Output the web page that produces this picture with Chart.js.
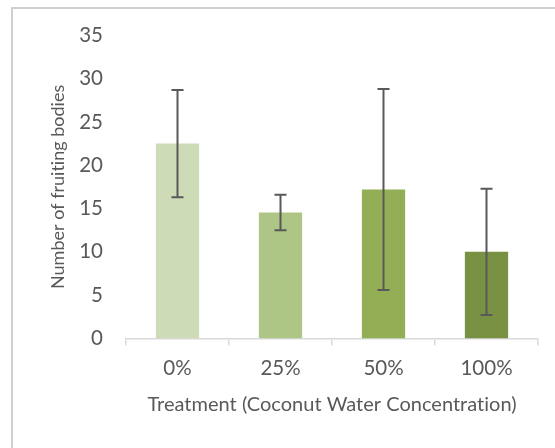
<!DOCTYPE html>
<html>
<head>
<meta charset="utf-8">
<script src="https://cdn.jsdelivr.net/npm/chart.js@4"></script>
<style>
  html, body { margin:0; padding:0; width:555px; height:448px; overflow:hidden; background:#fff; }
  #frame { position:absolute; left:11px; top:7px; width:600px; height:500px; border:2px solid #d0d0d0; box-sizing:border-box; }
  #c { position:absolute; left:0; top:0; font-variant-ligatures: none; }
</style>
</head>
<body>
<div id="frame"></div>
<canvas id="c" width="555" height="448"></canvas>
<script>
const categories = ['0%', '25%', '50%', '100%'];
const means = [22.5, 14.55, 17.2, 10.0];
const errors = [6.2, 2.05, 11.6, 7.3];
const barColors = ['#CDDBB6', '#ADC585', '#93AE55', '#789142'];
const yTicks = [0, 5, 10, 15, 20, 25, 30, 35];
const xTitle = 'Treatment (Coconut Water Concentration)';
const yTitle = 'Number of fruiting bodies';

const textColor = '#595959';
const fontFamily = 'Lato, "Open Sans", sans-serif';

const noLigatures = {
  id: 'noLigatures',
  beforeDraw(chart) {
    const ctx = chart.ctx;
    try { ctx.letterSpacing = '0.01px'; } catch (e) {}
    try { ctx.textRendering = 'optimizeSpeed'; } catch (e) {}
  }
};

const errorBarPlugin = {
  id: 'errorBars',
  afterDatasetsDraw(chart) {
    const ctx = chart.ctx;
    const meta = chart.getDatasetMeta(0);
    const y = chart.scales.y;
    ctx.save();
    ctx.strokeStyle = '#595959';
    ctx.lineWidth = 2;
    meta.data.forEach((bar, i) => {
      const x = bar.x;
      const top = y.getPixelForValue(means[i] + errors[i]);
      const bot = y.getPixelForValue(means[i] - errors[i]);
      const cap = 6;
      ctx.beginPath();
      ctx.moveTo(x, top); ctx.lineTo(x, bot);
      ctx.moveTo(x - cap, top); ctx.lineTo(x + cap, top);
      ctx.moveTo(x - cap, bot); ctx.lineTo(x + cap, bot);
      ctx.stroke();
    });
    ctx.restore();
  }
};

new Chart(document.getElementById('c'), {
  type: 'bar',
  data: {
    labels: categories,
    datasets: [{
      data: means,
      backgroundColor: barColors,
      borderWidth: 0,
      categoryPercentage: 1.0,
      barPercentage: 0.42
    }]
  },
  options: {
    responsive: false,
    devicePixelRatio: 1,
    animation: false,
    layout: { padding: { left: 0, right: 17, top: 35, bottom: 0 } },
    plugins: { legend: { display: false }, tooltip: { enabled: false } },
    scales: {
      x: {
        grid: { display: true, drawOnChartArea: false, drawTicks: true, tickLength: 7, color: '#d9d9d9', lineWidth: 1.5 },
        border: { display: true, color: '#d9d9d9', width: 1.5 },
        ticks: { color: textColor, font: { family: fontFamily, size: 20.5 }, padding: 11 },
        title: { display: true, text: xTitle, color: textColor, font: { family: fontFamily, size: 20 }, padding: { top: 0, bottom: 31 } },
        afterFit(s) { s.height = 448 - 338.5; }
      },
      y: {
        min: 0, max: 35,
        afterBuildTicks(s) { s.ticks = yTicks.map(v => ({ value: v })); },
        grid: { display: false, drawTicks: false },
        border: { display: false },
        ticks: { color: textColor, font: { family: fontFamily, size: 20.5 }, padding: 23 },
        title: { display: true, text: yTitle, color: textColor, font: { family: fontFamily, size: 18 }, padding: { top: 47, bottom: 0 } },
        afterFit(s) { s.width = 126; }
      }
    }
  },
  plugins: [noLigatures, errorBarPlugin]
});
</script>
</body>
</html>
